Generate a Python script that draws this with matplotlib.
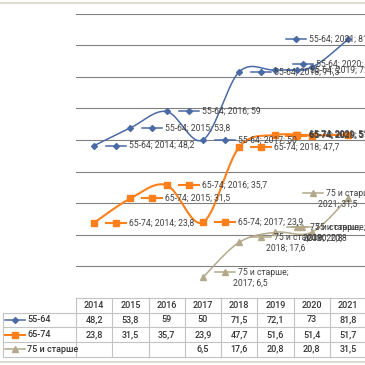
import numpy as np
import matplotlib
matplotlib.use("Agg")
import matplotlib.pyplot as plt
from matplotlib.lines import Line2D

plt.rcParams['font.family'] = ['Roboto', 'DejaVu Sans']

# Data
years = ['2014', '2015', '2016', '2017', '2018', '2019', '2020', '2021']
series_names = ['55-64', '65-74', '75 и старше']
v_55_64 = [48.2, 53.8, 59, 50, 71.5, 72.1, 73, 81.8]
v_65_74 = [23.8, 31.5, 35.7, 23.9, 47.7, 51.6, 51.4, 51.7]
v_75 = [None, None, None, 6.5, 17.6, 20.8, 20.8, 31.5]

# Styles
colors = ['#4A6AA5', '#FF7F1A', '#B3A98A']
markers = ['D', 's', '^']
msizes = [3.0, 3.8, 4.3]
lwidths = [1.1, 1.5, 1.1]
# label key start offsets (px) per point, where excel moved them
key_dx = [
    [12, 12, 12, 12, 12, 12, -19, -62],
    [12, 12, 12, 12, 12, 12, -26, -62],
    [12, 12, 12, 12, 12, 12, -20, -45],
]
key_dy = [
    [0, 0, 0, 0, 0, 0, 3, 0],
    [0, 0, 0, 0, 0, 0, 0, 0],
    [0, 0, 0, 0, 0, 0, 0, 0],
]
txt_col = '#404040'
W = H = 365.0


def fmt(v):
    s = ('%.1f' % v).rstrip('0').rstrip('.')
    return s.replace('.', ',')


fig = plt.figure(figsize=(3.65, 3.65), dpi=100, facecolor='white')
ax = fig.add_axes([76 / W, (H - 298) / H, 290 / W, (298 - 13.5) / H])
ax.set_xlim(-0.5, 7.5)
ax.set_ylim(0, 90)
for s in ax.spines.values():
    s.set_visible(False)
ax.set_xticks([])
ax.set_yticks(np.arange(10, 91, 10))
ax.tick_params(left=False, labelleft=False)
ax.yaxis.grid(True, color='#808080', lw=0.8)
ax.set_axisbelow(True)


def smooth(xs, ys, n=20):
    # excel-like smoothing (catmull-rom bezier in screen space)
    P = ax.transData.transform(np.column_stack([xs, ys]))
    out = [P[0]]
    for i in range(len(P) - 1):
        p0 = P[i - 1] if i > 0 else P[i]
        p1, p2 = P[i], P[i + 1]
        p3 = P[i + 2] if i + 2 < len(P) else P[i + 1]
        c1 = p1 + (p2 - p0) / 6
        c2 = p2 - (p3 - p1) / 6
        t = np.linspace(0, 1, n)[1:, None]
        seg = (1 - t) ** 3 * p1 + 3 * (1 - t) ** 2 * t * c1 + 3 * (1 - t) * t ** 2 * c2 + t ** 3 * p2
        out.extend(seg)
    out = ax.transData.inverted().transform(np.array(out))
    return out[:, 0], out[:, 1]


def off_pts(x, y, offs):
    d = ax.transData.transform([(x, y)])[0]
    return ax.transData.inverted().transform(d + np.array(offs))


all_vals = [v_55_64, v_65_74, v_75]
for k, vals in enumerate(all_vals):
    idx = [i for i, v in enumerate(vals) if v is not None]
    ys = [vals[i] for i in idx]
    sx, sy = smooth(np.array(idx, float), np.array(ys, float))
    ax.plot(sx, sy, color=colors[k], lw=lwidths[k], zorder=3, solid_capstyle='round')
    ax.plot(idx, ys, ls='none', marker=markers[k], ms=msizes[k], color=colors[k], zorder=4)

# data labels with legend keys
for k, vals in enumerate(all_vals):
    for i, v in enumerate(vals):
        if v is None:
            continue
        dx, dy = key_dx[k][i], key_dy[k][i]
        two = (k == 2)
        ky = dy + (5 if two else 0)
        kp = off_pts(i, v, [[dx, ky], [dx + 20, ky]])
        ax.plot(kp[:, 0], kp[:, 1], color=colors[k], lw=lwidths[k], clip_on=False, zorder=5)
        mp = off_pts(i, v, [[dx + 10, ky]])
        ax.plot(mp[:, 0], mp[:, 1], ls='none', marker=markers[k], ms=msizes[k],
                color=colors[k], clip_on=False, zorder=5)
        if two:
            ax.annotate(series_names[k] + ';', (i, v), xytext=(dx + 23, ky),
                        textcoords='offset pixels', ha='left', va='center',
                        fontsize=6.2, color=txt_col, annotation_clip=False, zorder=6)
            ax.annotate('%s; %s' % (years[i], fmt(v)), (i, v), xytext=(dx + 35, dy - 6),
                        textcoords='offset pixels', ha='center', va='center',
                        fontsize=6.2, color=txt_col, annotation_clip=False, zorder=6)
        else:
            ax.annotate('%s; %s; %s' % (series_names[k], years[i], fmt(v)), (i, v),
                        xytext=(dx + 23, ky), textcoords='offset pixels',
                        ha='left', va='center', fontsize=6.2, color=txt_col,
                        annotation_clip=False, zorder=6)

# data table
tab = fig.add_axes([3 / W, (H - 356.5) / H, 363 / W, 58.5 / H])
xl = -0.5 - 73 / 36.25
tab.set_xlim(xl, 7.5)
tab.set_ylim(4, 0)
tab.axis('off')
gc = '#C3C3C3'
tab.plot([-0.5, 7.5], [0, 0], color=gc, lw=0.8, clip_on=False)
for r in range(1, 5):
    tab.plot([xl, 7.5], [r, r], color=gc, lw=0.8, clip_on=False)
for c in range(9):
    tab.plot([c - 0.5, c - 0.5], [0, 4], color=gc, lw=0.8, clip_on=False)
tab.plot([xl, xl], [1, 4], color=gc, lw=0.8, clip_on=False)
for i, y in enumerate(years):
    tab.text(i, 0.5, y, ha='center', va='center', fontsize=6.5, color='#333333', weight='medium')
u = 1 / 36.25
for k, vals in enumerate(all_vals):
    r = k + 1.5
    tab.plot([xl + 2 * u, xl + 22 * u], [r, r], color=colors[k], lw=lwidths[k])
    tab.plot([xl + 12 * u], [r], ls='none', marker=markers[k], ms=msizes[k], color=colors[k])
    tab.text(xl + 24 * u, r, series_names[k], ha='left', va='center', fontsize=6.5,
             color='#333333', weight='medium')
    for i, v in enumerate(vals):
        if v is not None:
            tab.text(i, r, fmt(v), ha='center', va='center', fontsize=6.5,
                     color='#333333', weight='medium')

# chart border lines
fig.add_artist(Line2D([0, 1], [1 - 2.5 / H] * 2, color='#D6D3C8', lw=1.2))
fig.add_artist(Line2D([0, 1], [1 - 362 / H] * 2, color='#D6D3C8', lw=1.2))

fig.savefig('out.png', dpi=100, facecolor='white')
